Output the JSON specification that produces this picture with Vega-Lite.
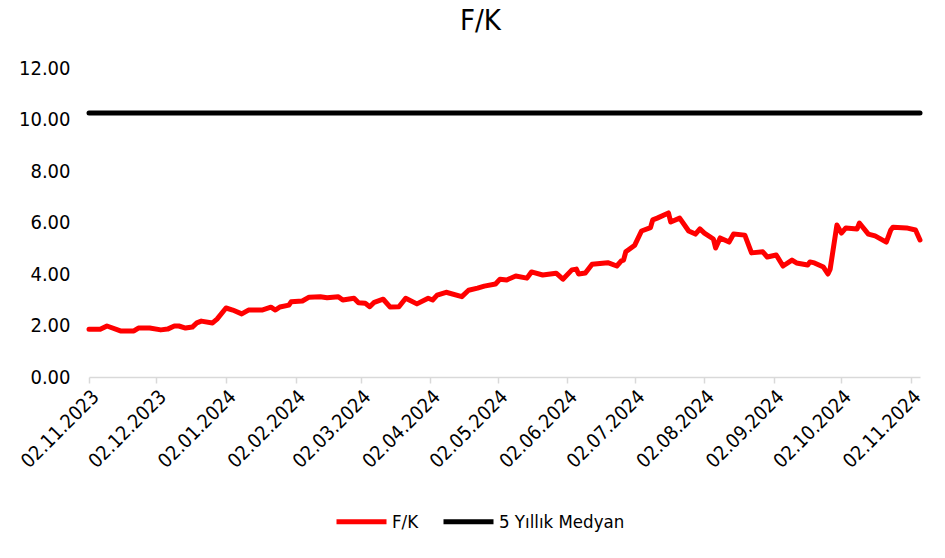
{
  "$schema": "https://vega.github.io/schema/vega-lite/v6.json",
  "width": 831,
  "height": 309,
  "autosize": "none",
  "padding": {"left": 89, "top": 68, "right": 25, "bottom": 181},
  "background": "white",
  "title": {"text": "F/K", "fontSize": 29, "font": "DejaVu Sans Condensed, sans-serif", "fontWeight": "normal", "color": "#000000", "anchor": "middle", "offset": 22, "dx": -24},
  "config": {"view": {"stroke": null}, "font": "DejaVu Sans Condensed, sans-serif"},
  "data": {"values": [
    {"date": "2023-11-02T00:00:00", "value": 1.85, "series": "F/K"},
    {"date": "2023-11-07T00:00:00", "value": 1.85, "series": "F/K"},
    {"date": "2023-11-10T00:00:00", "value": 1.98, "series": "F/K"},
    {"date": "2023-11-16T00:00:00", "value": 1.79, "series": "F/K"},
    {"date": "2023-11-22T00:00:00", "value": 1.79, "series": "F/K"},
    {"date": "2023-11-24T00:00:00", "value": 1.90, "series": "F/K"},
    {"date": "2023-11-29T00:00:00", "value": 1.90, "series": "F/K"},
    {"date": "2023-12-04T00:00:00", "value": 1.83, "series": "F/K"},
    {"date": "2023-12-07T00:00:00", "value": 1.86, "series": "F/K"},
    {"date": "2023-12-10T00:00:00", "value": 1.98, "series": "F/K"},
    {"date": "2023-12-12T00:00:00", "value": 1.98, "series": "F/K"},
    {"date": "2023-12-15T00:00:00", "value": 1.90, "series": "F/K"},
    {"date": "2023-12-18T00:00:00", "value": 1.94, "series": "F/K"},
    {"date": "2023-12-20T00:00:00", "value": 2.10, "series": "F/K"},
    {"date": "2023-12-22T00:00:00", "value": 2.17, "series": "F/K"},
    {"date": "2023-12-27T00:00:00", "value": 2.10, "series": "F/K"},
    {"date": "2023-12-29T00:00:00", "value": 2.25, "series": "F/K"},
    {"date": "2024-01-02T00:00:00", "value": 2.68, "series": "F/K"},
    {"date": "2024-01-05T00:00:00", "value": 2.60, "series": "F/K"},
    {"date": "2024-01-09T00:00:00", "value": 2.45, "series": "F/K"},
    {"date": "2024-01-12T00:00:00", "value": 2.60, "series": "F/K"},
    {"date": "2024-01-18T00:00:00", "value": 2.60, "series": "F/K"},
    {"date": "2024-01-22T00:00:00", "value": 2.71, "series": "F/K"},
    {"date": "2024-01-24T00:00:00", "value": 2.60, "series": "F/K"},
    {"date": "2024-01-26T00:00:00", "value": 2.72, "series": "F/K"},
    {"date": "2024-01-30T00:00:00", "value": 2.79, "series": "F/K"},
    {"date": "2024-01-31T00:00:00", "value": 2.92, "series": "F/K"},
    {"date": "2024-02-05T00:00:00", "value": 2.95, "series": "F/K"},
    {"date": "2024-02-08T00:00:00", "value": 3.10, "series": "F/K"},
    {"date": "2024-02-13T00:00:00", "value": 3.12, "series": "F/K"},
    {"date": "2024-02-16T00:00:00", "value": 3.08, "series": "F/K"},
    {"date": "2024-02-21T00:00:00", "value": 3.12, "series": "F/K"},
    {"date": "2024-02-23T00:00:00", "value": 2.99, "series": "F/K"},
    {"date": "2024-02-28T00:00:00", "value": 3.06, "series": "F/K"},
    {"date": "2024-03-01T00:00:00", "value": 2.88, "series": "F/K"},
    {"date": "2024-03-04T00:00:00", "value": 2.86, "series": "F/K"},
    {"date": "2024-03-06T00:00:00", "value": 2.73, "series": "F/K"},
    {"date": "2024-03-08T00:00:00", "value": 2.90, "series": "F/K"},
    {"date": "2024-03-12T00:00:00", "value": 3.02, "series": "F/K"},
    {"date": "2024-03-15T00:00:00", "value": 2.72, "series": "F/K"},
    {"date": "2024-03-19T00:00:00", "value": 2.73, "series": "F/K"},
    {"date": "2024-03-22T00:00:00", "value": 3.06, "series": "F/K"},
    {"date": "2024-03-27T00:00:00", "value": 2.84, "series": "F/K"},
    {"date": "2024-04-01T00:00:00", "value": 3.06, "series": "F/K"},
    {"date": "2024-04-03T00:00:00", "value": 2.99, "series": "F/K"},
    {"date": "2024-04-05T00:00:00", "value": 3.18, "series": "F/K"},
    {"date": "2024-04-09T00:00:00", "value": 3.29, "series": "F/K"},
    {"date": "2024-04-16T00:00:00", "value": 3.12, "series": "F/K"},
    {"date": "2024-04-19T00:00:00", "value": 3.37, "series": "F/K"},
    {"date": "2024-04-23T00:00:00", "value": 3.45, "series": "F/K"},
    {"date": "2024-04-26T00:00:00", "value": 3.53, "series": "F/K"},
    {"date": "2024-05-01T00:00:00", "value": 3.61, "series": "F/K"},
    {"date": "2024-05-03T00:00:00", "value": 3.80, "series": "F/K"},
    {"date": "2024-05-06T00:00:00", "value": 3.77, "series": "F/K"},
    {"date": "2024-05-10T00:00:00", "value": 3.92, "series": "F/K"},
    {"date": "2024-05-15T00:00:00", "value": 3.84, "series": "F/K"},
    {"date": "2024-05-17T00:00:00", "value": 4.08, "series": "F/K"},
    {"date": "2024-05-22T00:00:00", "value": 3.96, "series": "F/K"},
    {"date": "2024-05-28T00:00:00", "value": 4.03, "series": "F/K"},
    {"date": "2024-05-31T00:00:00", "value": 3.80, "series": "F/K"},
    {"date": "2024-06-04T00:00:00", "value": 4.16, "series": "F/K"},
    {"date": "2024-06-06T00:00:00", "value": 4.19, "series": "F/K"},
    {"date": "2024-06-07T00:00:00", "value": 4.00, "series": "F/K"},
    {"date": "2024-06-10T00:00:00", "value": 4.04, "series": "F/K"},
    {"date": "2024-06-13T00:00:00", "value": 4.38, "series": "F/K"},
    {"date": "2024-06-20T00:00:00", "value": 4.44, "series": "F/K"},
    {"date": "2024-06-24T00:00:00", "value": 4.31, "series": "F/K"},
    {"date": "2024-06-26T00:00:00", "value": 4.51, "series": "F/K"},
    {"date": "2024-06-27T00:00:00", "value": 4.54, "series": "F/K"},
    {"date": "2024-06-28T00:00:00", "value": 4.86, "series": "F/K"},
    {"date": "2024-07-02T00:00:00", "value": 5.12, "series": "F/K"},
    {"date": "2024-07-05T00:00:00", "value": 5.67, "series": "F/K"},
    {"date": "2024-07-09T00:00:00", "value": 5.80, "series": "F/K"},
    {"date": "2024-07-10T00:00:00", "value": 6.10, "series": "F/K"},
    {"date": "2024-07-12T00:00:00", "value": 6.17, "series": "F/K"},
    {"date": "2024-07-17T00:00:00", "value": 6.37, "series": "F/K"},
    {"date": "2024-07-18T00:00:00", "value": 6.02, "series": "F/K"},
    {"date": "2024-07-22T00:00:00", "value": 6.17, "series": "F/K"},
    {"date": "2024-07-26T00:00:00", "value": 5.67, "series": "F/K"},
    {"date": "2024-07-29T00:00:00", "value": 5.55, "series": "F/K"},
    {"date": "2024-07-31T00:00:00", "value": 5.75, "series": "F/K"},
    {"date": "2024-08-02T00:00:00", "value": 5.59, "series": "F/K"},
    {"date": "2024-08-06T00:00:00", "value": 5.36, "series": "F/K"},
    {"date": "2024-08-07T00:00:00", "value": 5.01, "series": "F/K"},
    {"date": "2024-08-09T00:00:00", "value": 5.40, "series": "F/K"},
    {"date": "2024-08-13T00:00:00", "value": 5.24, "series": "F/K"},
    {"date": "2024-08-15T00:00:00", "value": 5.55, "series": "F/K"},
    {"date": "2024-08-20T00:00:00", "value": 5.51, "series": "F/K"},
    {"date": "2024-08-23T00:00:00", "value": 4.82, "series": "F/K"},
    {"date": "2024-08-28T00:00:00", "value": 4.86, "series": "F/K"},
    {"date": "2024-08-30T00:00:00", "value": 4.66, "series": "F/K"},
    {"date": "2024-09-03T00:00:00", "value": 4.74, "series": "F/K"},
    {"date": "2024-09-06T00:00:00", "value": 4.31, "series": "F/K"},
    {"date": "2024-09-10T00:00:00", "value": 4.54, "series": "F/K"},
    {"date": "2024-09-12T00:00:00", "value": 4.43, "series": "F/K"},
    {"date": "2024-09-17T00:00:00", "value": 4.35, "series": "F/K"},
    {"date": "2024-09-18T00:00:00", "value": 4.47, "series": "F/K"},
    {"date": "2024-09-20T00:00:00", "value": 4.43, "series": "F/K"},
    {"date": "2024-09-24T00:00:00", "value": 4.27, "series": "F/K"},
    {"date": "2024-09-26T00:00:00", "value": 4.00, "series": "F/K"},
    {"date": "2024-09-27T00:00:00", "value": 4.19, "series": "F/K"},
    {"date": "2024-09-30T00:00:00", "value": 5.90, "series": "F/K"},
    {"date": "2024-10-02T00:00:00", "value": 5.59, "series": "F/K"},
    {"date": "2024-10-04T00:00:00", "value": 5.79, "series": "F/K"},
    {"date": "2024-10-09T00:00:00", "value": 5.75, "series": "F/K"},
    {"date": "2024-10-10T00:00:00", "value": 5.98, "series": "F/K"},
    {"date": "2024-10-14T00:00:00", "value": 5.55, "series": "F/K"},
    {"date": "2024-10-17T00:00:00", "value": 5.48, "series": "F/K"},
    {"date": "2024-10-22T00:00:00", "value": 5.24, "series": "F/K"},
    {"date": "2024-10-24T00:00:00", "value": 5.71, "series": "F/K"},
    {"date": "2024-10-25T00:00:00", "value": 5.82, "series": "F/K"},
    {"date": "2024-10-31T00:00:00", "value": 5.79, "series": "F/K"},
    {"date": "2024-11-04T00:00:00", "value": 5.71, "series": "F/K"},
    {"date": "2024-11-06T00:00:00", "value": 5.32, "series": "F/K"},
    {"date": "2023-11-02T00:00:00", "value": 10.25, "series": "5 Yıllık Medyan"},
    {"date": "2024-11-06T00:00:00", "value": 10.25, "series": "5 Yıllık Medyan"}
  ]},
  "mark": {"type": "line", "strokeWidth": 5, "strokeCap": "round", "strokeJoin": "round"},
  "encoding": {
    "x": {
      "field": "date", "type": "temporal",
      "scale": {"domain": [{"year": 2023, "month": 11, "date": 2}, {"year": 2024, "month": 11, "date": 6}]},
      "axis": {
        "title": null,
        "values": [
          {"year": 2023, "month": 11, "date": 2},
          {"year": 2023, "month": 12, "date": 2},
          {"year": 2024, "month": 1, "date": 2},
          {"year": 2024, "month": 2, "date": 2},
          {"year": 2024, "month": 3, "date": 2},
          {"year": 2024, "month": 4, "date": 2},
          {"year": 2024, "month": 5, "date": 2},
          {"year": 2024, "month": 6, "date": 2},
          {"year": 2024, "month": 7, "date": 2},
          {"year": 2024, "month": 8, "date": 2},
          {"year": 2024, "month": 9, "date": 2},
          {"year": 2024, "month": 10, "date": 2},
          {"year": 2024, "month": 11, "date": 2}
        ],
        "format": "%d.%m.%Y",
        "labelAngle": -45,
        "labelFontSize": 19.5,
        "labelColor": "#000000",
        "labelPadding": 4,
        "labelOverlap": false,
        "labelFlush": false,
        "grid": false,
        "domainColor": "#d9d9d9",
        "domainWidth": 1.5,
        "tickColor": "#d9d9d9",
        "tickWidth": 1.5,
        "tickSize": 6
      }
    },
    "y": {
      "field": "value", "type": "quantitative",
      "scale": {"domain": [0, 12], "nice": false},
      "axis": {
        "title": null,
        "values": [0, 2, 4, 6, 8, 10, 12],
        "format": ".2f",
        "grid": false,
        "domain": false,
        "ticks": false,
        "labelFontSize": 20,
        "labelColor": "#000000",
        "labelPadding": 19
      }
    },
    "color": {
      "field": "series", "type": "nominal",
      "scale": {"domain": ["F/K", "5 Yıllık Medyan"], "range": ["#ff0000", "#000000"]},
      "legend": {
        "title": null,
        "orient": "none",
        "direction": "horizontal",
        "legendX": 245,
        "legendY": 426,
        "symbolType": "stroke",
        "symbolStrokeWidth": 5,
        "symbolSize": 2500,
        "labelFontSize": 18.5,
        "labelColor": "#000000",
        "labelOffset": 3,
        "columnPadding": 14
      }
    }
  }
}
